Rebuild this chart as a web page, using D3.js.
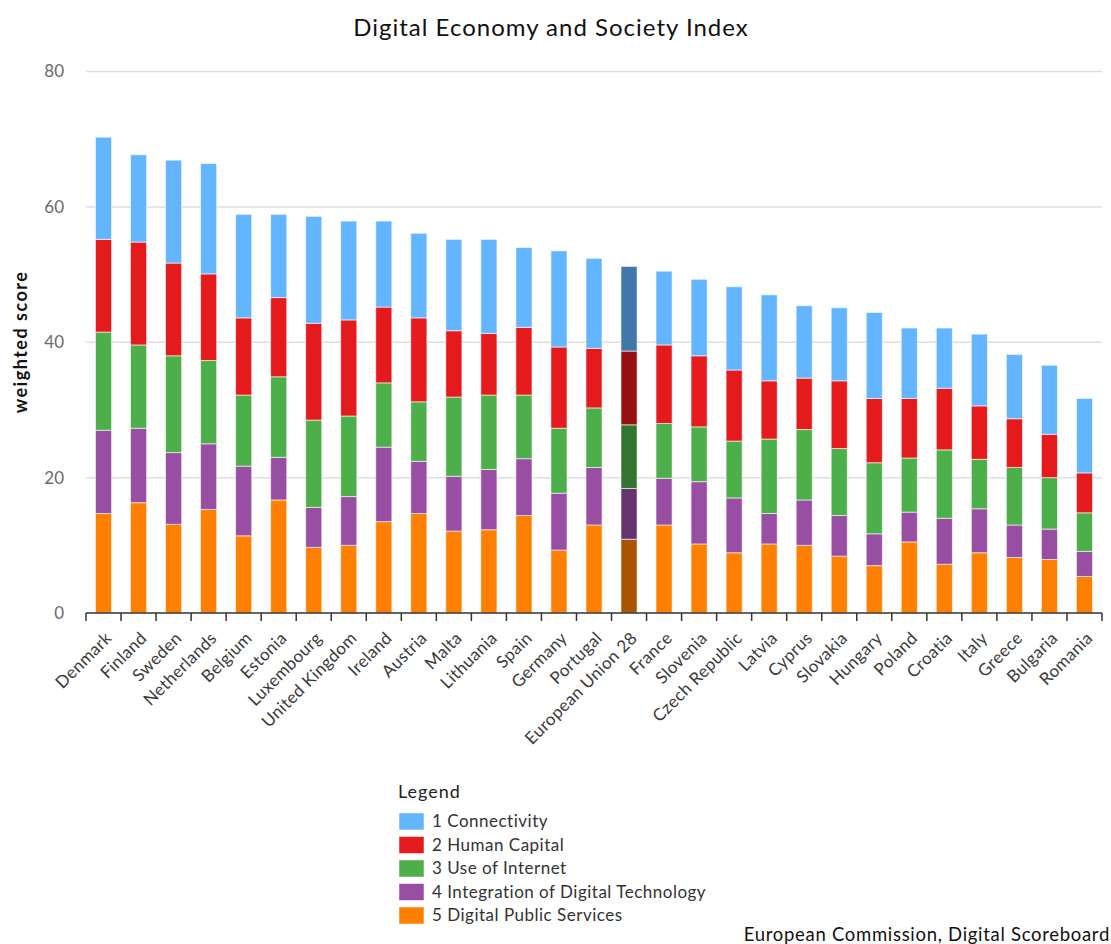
<!DOCTYPE html>
<html>
<head>
<meta charset="utf-8">
<script src="https://cdn.jsdelivr.net/npm/d3@7"></script>
<style>
  html, body { margin: 0; padding: 0; background: #fff; }
  svg { display: block; font-family: Lato, "Open Sans", sans-serif; }
</style>
</head>
<body>
<svg id="chart" width="1111" height="944"></svg>
<script>
const categories = ["Denmark","Finland","Sweden","Netherlands","Belgium","Estonia","Luxembourg","United Kingdom","Ireland","Austria","Malta","Lithuania","Spain","Germany","Portugal","European Union 28","France","Slovenia","Czech Republic","Latvia","Cyprus","Slovakia","Hungary","Poland","Croatia","Italy","Greece","Bulgaria","Romania"];
const digitalPublicServices = [14.7,16.3,13.1,15.3,11.4,16.7,9.7,10.0,13.5,14.7,12.1,12.3,14.4,9.3,13.0,10.9,13.0,10.2,8.9,10.2,10.0,8.4,7.0,10.5,7.2,8.9,8.2,7.9,5.4];
const integrationDigitalTech = [12.3,11.0,10.6,9.7,10.3,6.3,5.9,7.2,11.0,7.7,8.1,8.9,8.4,8.4,8.5,7.5,6.9,9.2,8.1,4.5,6.7,6.0,4.7,4.4,6.8,6.5,4.8,4.5,3.7];
const useOfInternet = [14.5,12.3,14.3,12.3,10.5,11.9,12.9,11.9,9.5,8.8,11.7,11.0,9.4,9.6,8.8,9.4,8.1,8.1,8.4,11.0,10.4,9.9,10.5,8.0,10.1,7.3,8.5,7.6,5.7];
const humanCapital = [13.7,15.2,13.7,12.8,11.4,11.7,14.3,14.2,11.2,12.4,9.8,9.1,10.0,12.0,8.8,10.9,11.6,10.5,10.5,8.6,7.6,10.0,9.5,8.8,9.1,7.9,7.2,6.4,5.9];
const connectivity = [15.1,12.9,15.2,16.3,15.3,12.3,15.8,14.6,12.7,12.5,13.5,13.9,11.8,14.2,13.3,12.5,10.9,11.3,12.3,12.7,10.7,10.8,12.7,10.4,8.9,10.6,9.5,10.2,11.0];
const seriesNames = ["1 Connectivity","2 Human Capital","3 Use of Internet","4 Integration of Digital Technology","5 Digital Public Services"];
const seriesColors = ["#64b5ff","#e41a1c","#4daf4a","#984ea3","#ff7f00"];
const yTicks = [0,20,40,60,80];
const highlight = "European Union 28";

const svg = d3.select("#chart");
const margin = {left: 86, right: 1102, top: 71.5, bottom: 613};

const seriesArrays = [connectivity, humanCapital, useOfInternet, integrationDigitalTech, digitalPublicServices];
const rows = categories.map((c, i) => {
  const r = {country: c};
  seriesNames.forEach((s, k) => r[s] = seriesArrays[k][i]);
  return r;
});
const stackKeys = seriesNames.slice().reverse();
const stacked = d3.stack().keys(stackKeys)(rows);
const color = d3.scaleOrdinal().domain(seriesNames).range(seriesColors);

const x = d3.scaleBand().domain(categories).range([margin.left, margin.right]).paddingInner(0.54).paddingOuter(0.27);
const y = d3.scaleLinear().domain([0, 80]).range([margin.bottom, margin.top]);

// gridlines
svg.append("g").selectAll("line").data(yTicks.filter(d => d > 0)).join("line")
  .attr("x1", margin.left).attr("x2", margin.right)
  .attr("y1", d => y(d)).attr("y2", d => y(d))
  .attr("stroke", "#dedede").attr("stroke-width", 1.5);

// y tick labels
svg.append("g").selectAll("text").data(yTicks).join("text")
  .attr("x", 64).attr("y", d => y(d)).attr("dy", "0.35em")
  .attr("text-anchor", "end").attr("font-size", 17).attr("fill", "#6a6a6a")
  .text(d => d);

// bars
svg.append("g").selectAll("g").data(stacked).join("g")
  .each(function(layer) {
    d3.select(this).selectAll("rect").data(layer).join("rect")
      .attr("x", d => x(d.data.country))
      .attr("width", x.bandwidth())
      .attr("y", d => y(d[1]))
      .attr("height", d => y(d[0]) - y(d[1]))
      .attr("fill", d => {
        const c = color(layer.key);
        return d.data.country === highlight ? d3.color(c).darker(1.15).formatHex() : c;
      })
      .attr("stroke", "#fff").attr("stroke-opacity", 0.6).attr("stroke-width", 1);
  });

// x axis
const xAxisG = svg.append("g");
xAxisG.append("line").attr("x1", margin.left).attr("x2", margin.right)
  .attr("y1", margin.bottom).attr("y2", margin.bottom)
  .attr("stroke", "#333").attr("stroke-width", 1.5);
const boundaries = categories.map(c => x(c) - x.step() * x.paddingInner() / 2).concat([margin.right]);
boundaries[0] = margin.left;
xAxisG.selectAll("line.tick").data(boundaries).join("line").attr("class", "tick")
  .attr("x1", d => d).attr("x2", d => d)
  .attr("y1", margin.bottom).attr("y2", margin.bottom + 8)
  .attr("stroke", "#333").attr("stroke-width", 1.5);
xAxisG.selectAll("text").data(categories).join("text")
  .attr("transform", d => `translate(${x(d) + x.bandwidth() / 2 + 5},${margin.bottom + 22}) rotate(-45)`)
  .attr("text-anchor", "end").attr("font-size", 17).attr("letter-spacing", 0.35).attr("fill", "#3a3a3a")
  .attr("dy", "0.35em")
  .text(d => d);

// title
svg.append("text").attr("x", 551).attr("y", 36).attr("text-anchor", "middle")
  .attr("font-size", 24).attr("letter-spacing", 1).attr("fill", "#111").text("Digital Economy and Society Index");

// y label
svg.append("text").attr("transform", "translate(27,342) rotate(-90)")
  .attr("text-anchor", "middle").attr("font-size", 18).attr("letter-spacing", 1.5).attr("font-weight", "bold").attr("fill", "#111")
  .text("weighted score");

// legend
const lg = svg.append("g");
lg.append("text").attr("x", 398).attr("y", 798).attr("font-size", 18).attr("letter-spacing", 1).attr("fill", "#222").text("Legend");
const items = lg.selectAll("g.item").data(seriesNames).join("g").attr("class", "item")
  .attr("transform", (d, i) => `translate(399,${813 + i * 23.5})`);
items.append("rect").attr("width", 25).attr("height", 17)
  .attr("fill", d => color(d)).attr("stroke", "#fff").attr("stroke-opacity", 0.5);
items.append("text").attr("x", 33).attr("y", 8.5).attr("dy", "0.35em")
  .attr("font-size", 17).attr("letter-spacing", 0.5).attr("fill", "#333").text(d => d);

// source
svg.append("text").attr("x", 1110).attr("y", 941).attr("text-anchor", "end")
  .attr("font-size", 18.5).attr("letter-spacing", 0.7).attr("fill", "#111").text("European Commission, Digital Scoreboard");
</script>
</body>
</html>
